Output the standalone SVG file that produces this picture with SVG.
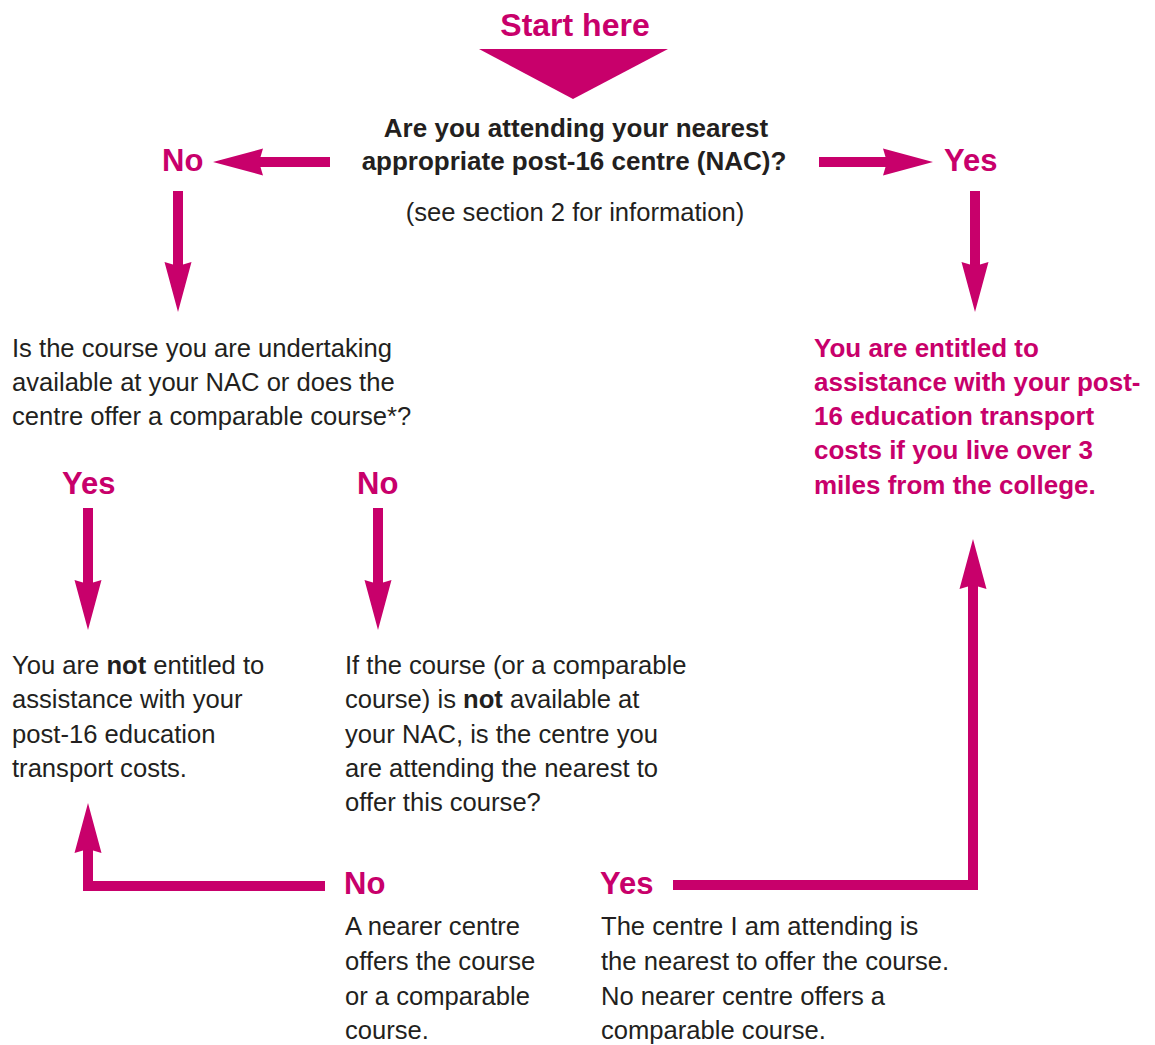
<svg xmlns="http://www.w3.org/2000/svg" width="1155" height="1045" viewBox="0 0 1155 1045">
<style>
  .t { font-family: "Liberation Sans", Arial, sans-serif; font-size: 25.6px; fill: #231F20; }
  .q { font-family: "Liberation Sans", Arial, sans-serif; font-size: 26px; font-weight: bold; fill: #231F20; text-anchor: middle; }
  .p { font-family: "Liberation Sans", Arial, sans-serif; font-size: 26px; font-weight: bold; fill: #C8006B; }
  .lbl { font-family: "Liberation Sans", Arial, sans-serif; font-size: 31px; font-weight: bold; fill: #C8006B; }
  .b { font-weight: bold; }
  .arrow { fill: none; stroke: #C8006B; stroke-width: 10; stroke-linecap: butt; stroke-linejoin: miter; marker-end: url(#head); }
</style>
<defs>
  <marker id="head" markerUnits="userSpaceOnUse" markerWidth="50" markerHeight="28" viewBox="0 0 50 28" refX="8" refY="14" orient="auto">
    <path d="M0,0.5 L50,14 L0,27.5 L4,14 z" fill="#C8006B"/>
  </marker>
</defs>
<rect width="1155" height="1045" fill="#FFFFFF"/>

<g id="start">
  <text class="lbl" x="575" y="36" text-anchor="middle" style="font-size:32px">Start here</text>
  <polygon points="479,49 668,49 573,99" fill="#C8006B"/>
</g>

<g id="question">
  <text class="q" x="576" y="137">Are you attending your nearest</text>
  <text class="q" x="574" y="170">appropriate post-16 centre (NAC)?</text>
  <text class="t" x="575" y="221" text-anchor="middle">(see section 2 for information)</text>
</g>

<g id="no-top">
  <text class="lbl" x="162" y="171">No</text>
</g>
<g id="yes-top">
  <text class="lbl" x="944" y="171">Yes</text>
</g>

<g id="course-question">
  <text class="t" x="12" y="357">Is the course you are undertaking</text>
  <text class="t" x="12" y="391">available at your NAC or does the</text>
  <text class="t" x="12" y="425">centre offer a comparable course*?</text>
</g>

<g id="entitled">
  <text class="p" x="814" y="357">You are entitled to</text>
  <text class="p" x="814" y="391">assistance with your post-</text>
  <text class="p" x="814" y="425">16 education transport</text>
  <text class="p" x="814" y="459">costs if you live over 3</text>
  <text class="p" x="814" y="494">miles from the college.</text>
</g>

<g id="yes-mid">
  <text class="lbl" x="62" y="494">Yes</text>
</g>
<g id="no-mid">
  <text class="lbl" x="357" y="494">No</text>
</g>

<g id="not-entitled">
  <text class="t" x="12" y="674">You are <tspan class="b">not</tspan> entitled to</text>
  <text class="t" x="12" y="708">assistance with your</text>
  <text class="t" x="12" y="743">post-16 education</text>
  <text class="t" x="12" y="777">transport costs.</text>
</g>

<g id="nearest-question">
  <text class="t" x="345" y="674">If the course (or a comparable</text>
  <text class="t" x="345" y="708">course) is <tspan class="b">not</tspan> available at</text>
  <text class="t" x="345" y="743">your NAC, is the centre you</text>
  <text class="t" x="345" y="777">are attending the nearest to</text>
  <text class="t" x="345" y="811">offer this course?</text>
</g>

<g id="no-bottom">
  <text class="lbl" x="344" y="894">No</text>
  <text class="t" x="345" y="935">A nearer centre</text>
  <text class="t" x="345" y="970">offers the course</text>
  <text class="t" x="345" y="1005">or a comparable</text>
  <text class="t" x="345" y="1039">course.</text>
</g>

<g id="yes-bottom">
  <text class="lbl" x="600" y="894">Yes</text>
  <text class="t" x="601" y="935">The centre I am attending is</text>
  <text class="t" x="601" y="970">the nearest to offer the course.</text>
  <text class="t" x="601" y="1005">No nearer centre offers a</text>
  <text class="t" x="601" y="1039">comparable course.</text>
</g>

<g id="connectors">
  <path class="arrow" d="M330,162 H255"/>
  <path class="arrow" d="M819,162 H891"/>
  <path class="arrow" d="M178,191 V270"/>
  <path class="arrow" d="M975,191 V270"/>
  <path class="arrow" d="M88,508 V588"/>
  <path class="arrow" d="M378,508 V588"/>
  <path class="arrow" d="M325,886 H88 V845"/>
  <path class="arrow" d="M673,885 H973 V581"/>
</g>
</svg>
